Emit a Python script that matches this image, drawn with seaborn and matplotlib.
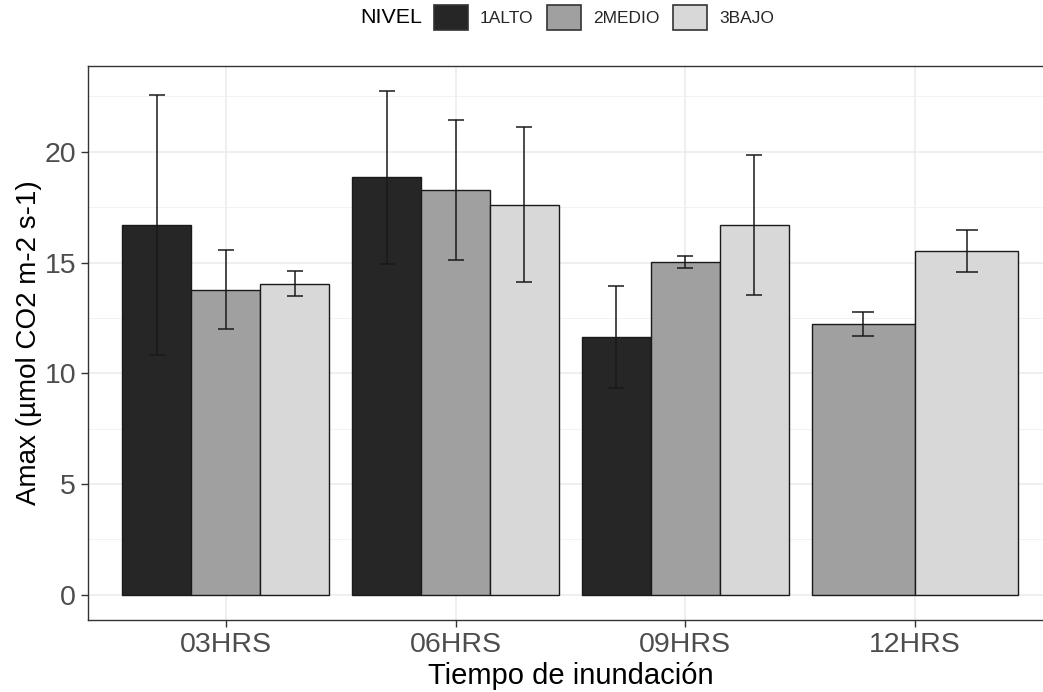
import matplotlib
matplotlib.use("Agg")
import matplotlib.pyplot as plt
from matplotlib.patches import Patch
import seaborn as sns
import numpy as np

# ---- data ----
categories = ["03HRS", "06HRS", "09HRS", "12HRS"]
levels = ["1ALTO", "2MEDIO", "3BAJO"]
colors = ["#262626", "#A0A0A0", "#D8D8D8"]
# means per level (None = missing)
alto_mean  = [16.69, 18.85, 11.62, None]
medio_mean = [13.77, 18.28, 15.04, 12.22]
bajo_mean  = [14.04, 17.62, 16.69, 15.52]
alto_err   = [5.88, 3.90, 2.30, None]
medio_err  = [1.78, 3.17, 0.27, 0.55]
bajo_err   = [0.56, 3.49, 3.17, 0.93]
yticks = [0, 5, 10, 15, 20]

means = [alto_mean, medio_mean, bajo_mean]
errs = [alto_err, medio_err, bajo_err]

sns.set_style("white")
plt.rcParams['font.family'] = ['Liberation Sans', 'DejaVu Sans']

W, H = 1043, 692
fig = plt.figure(figsize=(W / 100, H / 100), dpi=100)
ax_left, ax_right, ax_top, ax_bot = 88.0, 1052.8, 65.7, 620.0
ax = fig.add_axes([ax_left / W, 1 - ax_bot / H, (ax_right - ax_left) / W, (ax_bot - ax_top) / H])

dodge = 0.9
xlim = (-0.6, len(categories) - 1 + 0.6)
px_per_unit = (ax_right - ax_left) / (xlim[1] - xlim[0])

upper_all = []
for ci, cat in enumerate(categories):
    present = [li for li in range(len(levels)) if means[li][ci] is not None]
    n = len(present)
    bw = dodge / n
    for k, li in enumerate(present):
        x = ci - dodge / 2 + bw * (k + 0.5)
        m = means[li][ci]
        e = errs[li][ci]
        ax.bar(x, m, width=bw, color=colors[li], edgecolor="#1a1a1a", linewidth=1.0, zorder=3)
        cap_pts = 0.22 * bw * px_per_unit * 72 / 100
        ax.errorbar(x, m, yerr=e, fmt="none", ecolor="#1a1a1a", elinewidth=1.1,
                    capsize=cap_pts / 2, capthick=1.1, zorder=4)
        upper_all.append(m + e)

ymax = max(upper_all)
ax.set_ylim(-0.05 * ymax, ymax * 1.05)
ax.set_xlim(*xlim)

ax.set_xticks(range(len(categories)))
ax.set_xticklabels(categories)
ax.set_yticks(yticks)
ax.set_yticks([2.5, 7.5, 12.5, 17.5, 22.5], minor=True)

ax.grid(True, which="major", color="#EBEBEB", linewidth=1.1, zorder=0)
ax.grid(True, which="minor", axis="y", color="#F2F2F2", linewidth=0.7, zorder=0)
ax.set_axisbelow(True)

for s in ax.spines.values():
    s.set_color("#333333")
    s.set_linewidth(1.0)
ax.spines["right"].set_visible(False)

ax.tick_params(axis="both", which="major", direction="out", length=5, width=1.0,
               color="#333333", labelcolor="#4D4D4D", labelsize=20.5, pad=3.5,
               bottom=True, left=True)
ax.tick_params(axis="both", which="minor", length=0)

ax.set_xlabel("Tiempo de inundación", fontsize=21, color="black", labelpad=3)
ax.set_ylabel("Amax (µmol CO2 m-2 s-1)", fontsize=20, color="black", labelpad=2)

# legend on top
handles = [Patch(facecolor=c, edgecolor="#333333", linewidth=1.2) for c in colors]
yc = 1 - 17.8 / H
fig.text(360 / W, yc, "NIVEL", fontsize=15.4, ha="left", va="center", color="black")
fig.legend(handles=handles, labels=levels, ncol=3, loc="center left",
           bbox_to_anchor=(434 / W, yc), frameon=False, fontsize=12.5,
           handlelength=1.95, handleheight=1.84, handletextpad=0.69,
           columnspacing=0.8, borderpad=0, borderaxespad=0)

fig.savefig("out.png", dpi=100)
